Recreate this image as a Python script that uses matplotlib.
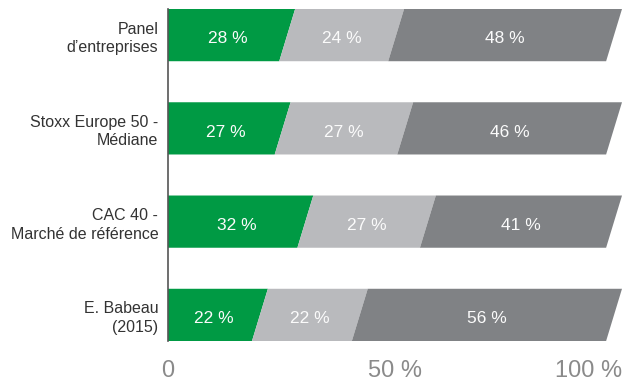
import matplotlib.pyplot as plt
from matplotlib.patches import Polygon

categories = ["Panel\nd\u2019entreprises", "Stoxx Europe 50 -\nM\u00e9diane",
              "CAC 40 -\nMarch\u00e9 de r\u00e9f\u00e9rence", "E. Babeau\n(2015)"]
part1 = [28, 27, 32, 22]
part2 = [24, 27, 27, 22]
part3 = [48, 46, 41, 56]
colors = ["#009a44", "#b9babd", "#808285"]

plt.rcParams['font.family'] = ['Liberation Sans', 'DejaVu Sans']

fig = plt.figure(figsize=(6.33, 3.85), dpi=100)
ax = fig.add_axes([168/633, 44/385, (622-168)/633, 332/385])

h = 0.56      # bar height
slant = 3.5   # horizontal shift between top and bottom of each boundary

for i in range(len(categories)):
    vals = [part1[i], part2[i], part3[i]]
    left = 0
    top, bot = i - h/2, i + h/2
    for j, v in enumerate(vals):
        right = left + v
        lt = left
        lb = left - slant if j > 0 else 0
        rt = right
        rb = right - slant
        poly = Polygon([(lb, bot), (lt, top), (rt, top), (rb, bot)],
                       closed=True, facecolor=colors[j], edgecolor='none')
        ax.add_patch(poly)
        cx = ((lt + lb) / 2 + (rt + rb) / 2) / 2
        ax.text(cx, i + 0.04, f"{v} %", ha='center', va='center',
                color='#fbfbfb', fontsize=12.5)
        left = right

ax.set_xlim(0, 100)
ax.set_ylim(3 + 0.28, -0.28)
ax.set_yticks(range(len(categories)))
ax.set_yticklabels(categories, fontsize=11.5, color='#333333', linespacing=1.3)
ax.tick_params(axis='y', length=0, pad=7)

ax.set_xticks([0, 50, 100])
ax.set_xticklabels(["0", "50 %", "100 %"], fontsize=17, color='#8a8a8a')
ax.tick_params(axis='x', length=0, pad=13.5)
ax.get_xticklabels()[-1].set_horizontalalignment('right')

for s in ['top', 'right', 'bottom']:
    ax.spines[s].set_visible(False)
ax.spines['left'].set_color('#555555')
ax.spines['left'].set_linewidth(1.2)

plt.savefig("out.png", dpi=100)
